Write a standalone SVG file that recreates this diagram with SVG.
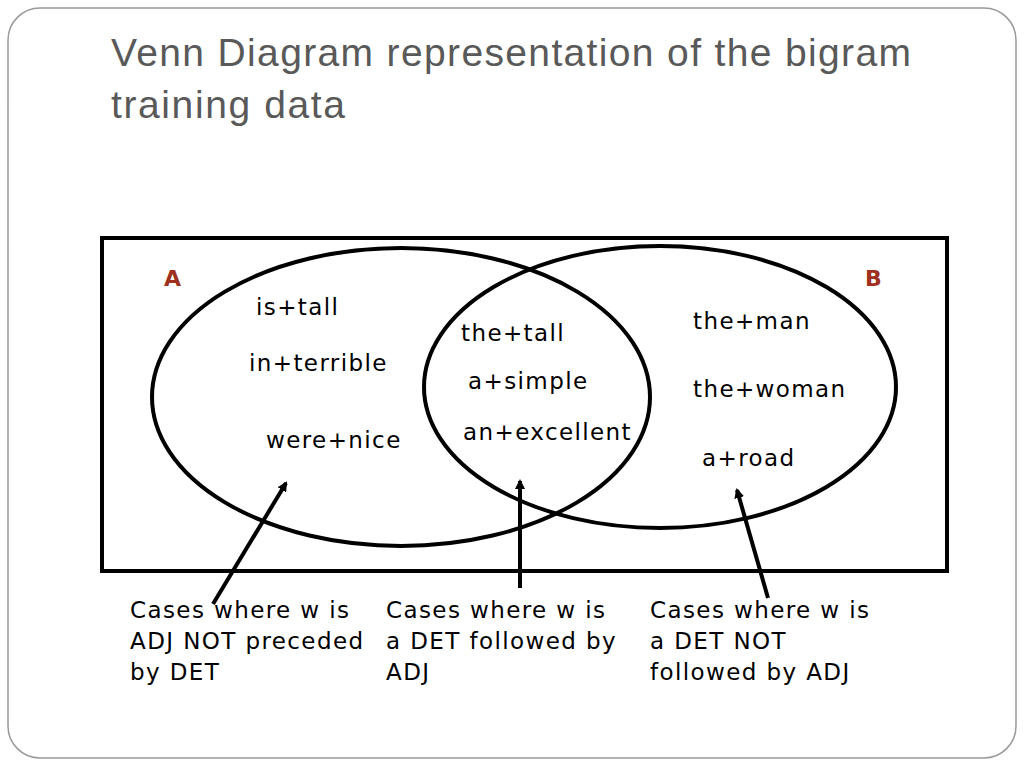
<svg xmlns="http://www.w3.org/2000/svg" width="1024" height="768" viewBox="0 0 1024 768">
<defs>
<style>
.t{font-family:"DejaVu Sans",Verdana,sans-serif;font-size:23px;letter-spacing:1.4px;fill:#000}
.lab{font-family:"DejaVu Sans",Verdana,sans-serif;font-size:22px;font-weight:bold;fill:#a0301e}
.ttl{font-family:"Liberation Sans",sans-serif;font-size:39px;fill:#595959}
.sh{fill:none;stroke:#000;stroke-width:4}
</style>
<marker id="ah" markerWidth="10" markerHeight="10" refX="8" refY="5" orient="auto" markerUnits="userSpaceOnUse"><path d="M0,0 L10,5 L0,10 Z" fill="#000"/></marker>
</defs>
<rect x="0" y="0" width="1024" height="768" fill="#fff"/>
<rect x="8" y="8" width="1008" height="750" rx="32" fill="none" stroke="#999" stroke-width="1.5"/>
<text class="ttl" x="111" y="66" textLength="800" lengthAdjust="spacing">Venn Diagram representation of the bigram</text>
<text class="ttl" x="111" y="118" textLength="234" lengthAdjust="spacing">training data</text>
<g id="box"><rect class="sh" x="102" y="238" width="845" height="333"/></g>
<g id="setA"><ellipse class="sh" cx="401" cy="397" rx="249" ry="149"/><text class="lab" x="164" y="286">A</text></g>
<g id="setB"><ellipse class="sh" cx="660" cy="387" rx="236" ry="141"/><text class="lab" x="865" y="286">B</text></g>
<g id="texts">
<text class="t" x="256" y="315">is+tall</text>
<text class="t" x="249" y="371">in+terrible</text>
<text class="t" x="266" y="448">were+nice</text>
<text class="t" x="461" y="341">the+tall</text>
<text class="t" x="468" y="389">a+simple</text>
<text class="t" x="463" y="440">an+excellent</text>
<text class="t" x="693" y="329">the+man</text>
<text class="t" x="693" y="397">the+woman</text>
<text class="t" x="702" y="466">a+road</text>
<text class="t" x="130" y="618">Cases where w is</text>
<text class="t" x="130" y="649">ADJ NOT preceded</text>
<text class="t" x="130" y="680">by DET</text>
<text class="t" x="386" y="618">Cases where w is</text>
<text class="t" x="386" y="649">a DET followed by</text>
<text class="t" x="386" y="680">ADJ</text>
<text class="t" x="650" y="618">Cases where w is</text>
<text class="t" x="650" y="649">a DET NOT</text>
<text class="t" x="650" y="680">followed by ADJ</text>
</g>
<g id="connectors" stroke="#000" stroke-width="4">
<line x1="213" y1="604" x2="286" y2="483" marker-end="url(#ah)"/>
<line x1="520" y1="588" x2="520" y2="481" marker-end="url(#ah)"/>
<line x1="768" y1="598" x2="737" y2="490" marker-end="url(#ah)"/>
</g>
</svg>
